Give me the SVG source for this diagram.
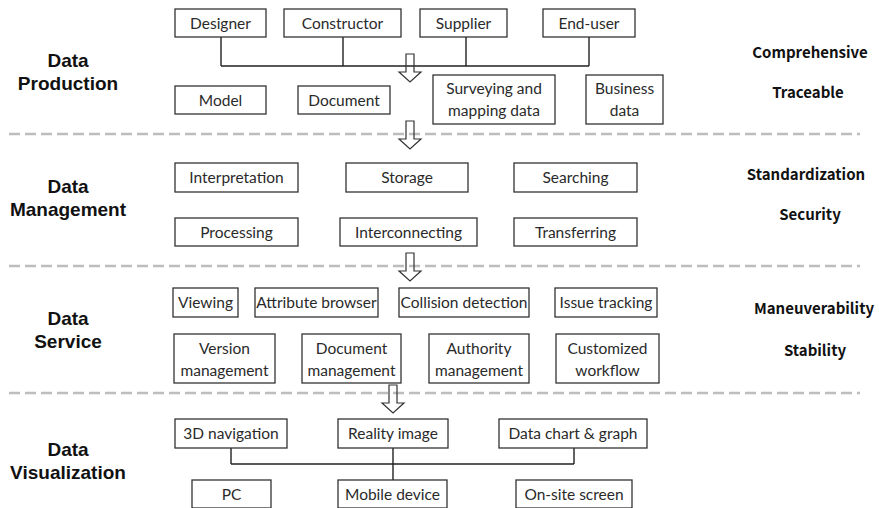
<svg xmlns="http://www.w3.org/2000/svg" width="879" height="508" viewBox="0 0 879 508">
  <style>
    .box rect { fill: #fff; stroke: #333; stroke-width: 1.3; }
    .box text { font-family: Lato, "Noto Sans", sans-serif; font-size: 15.5px; fill: #2a2a2a; text-anchor: middle; }
    .wire { fill: none; stroke: #222; stroke-width: 1.4; }
    .arrow { fill: none; stroke: #333; stroke-width: 1.2; stroke-linejoin: miter; }
    .sep { stroke: #bdbdbd; stroke-width: 2.5; stroke-dasharray: 11 5; }
    .stage { font-family: "Liberation Sans", Arial, sans-serif; font-weight: bold; font-size: 19px; fill: #111; text-anchor: middle; }
    .trait { font-family: "Noto Sans CJK SC", "Noto Sans", sans-serif; font-weight: bold; font-size: 15px; fill: #111; text-anchor: middle; }
  </style>
  <defs>
    <path id="downArrow" d="M-4 0 H4 V18 H11 L0 28 L-11 18 H-4 Z"/>
  </defs>

  <rect width="879" height="508" fill="#fff"/>

  <!-- layer separators -->
  <g id="separators">
    <line class="sep" x1="9" y1="134" x2="860" y2="134"/>
    <line class="sep" x1="9" y1="266" x2="860" y2="266"/>
    <line class="sep" x1="9" y1="393" x2="860" y2="393"/>
  </g>

  <!-- layer titles -->
  <g id="stage-titles">
    <text class="stage" x="68" y="67">Data</text>
    <text class="stage" x="68" y="90">Production</text>
    <text class="stage" x="68" y="193">Data</text>
    <text class="stage" x="68" y="216">Management</text>
    <text class="stage" x="68" y="325">Data</text>
    <text class="stage" x="68" y="348">Service</text>
    <text class="stage" x="68" y="456">Data</text>
    <text class="stage" x="68" y="479">Visualization</text>
  </g>

  <!-- layer properties -->
  <g id="traits">
    <text class="trait" x="810" y="58">Comprehensive</text>
    <text class="trait" x="808" y="98">Traceable</text>
    <text class="trait" x="806" y="180">Standardization</text>
    <text class="trait" x="810" y="220">Security</text>
    <text class="trait" x="814" y="314">Maneuverability</text>
    <text class="trait" x="815" y="356">Stability</text>
  </g>

  <!-- connectors -->
  <g id="connectors">
    <path class="wire" d="M221 37 V66 M343 37 V66 M466 37 V66 M589 37 V66 M221 66 H589"/>
    <path class="wire" d="M231 448 V464 M393 448 V480 M574 448 V464 M231 464 H574"/>
    <use href="#downArrow" class="arrow" x="410" y="54"/>
    <use href="#downArrow" class="arrow" x="410" y="121"/>
    <use href="#downArrow" class="arrow" x="410" y="253"/>
    <use href="#downArrow" class="arrow" x="393" y="385"/>
  </g>

  <!-- Data Production -->
  <g id="designer" class="box"><rect x="175" y="9" width="91" height="28"/><text x="220.5" y="28.5">Designer</text></g>
  <g id="constructor" class="box"><rect x="284" y="9" width="117" height="28"/><text x="342.5" y="28.5">Constructor</text></g>
  <g id="supplier" class="box"><rect x="420" y="9" width="87" height="28"/><text x="463.5" y="28.5">Supplier</text></g>
  <g id="end-user" class="box"><rect x="543" y="9" width="92" height="28"/><text x="589" y="28.5">End-user</text></g>
  <g id="model" class="box"><rect x="175" y="86" width="91" height="28"/><text x="220.5" y="105.5">Model</text></g>
  <g id="document" class="box"><rect x="298" y="86" width="92" height="28"/><text x="344" y="105.5">Document</text></g>
  <g id="surveying" class="box"><rect x="433" y="75" width="122" height="49"/><text x="494" y="94">Surveying and</text><text x="494" y="116">mapping data</text></g>
  <g id="business" class="box"><rect x="586" y="75" width="77" height="49"/><text x="624.5" y="94">Business</text><text x="624.5" y="116">data</text></g>

  <!-- Data Management -->
  <g id="interpretation" class="box"><rect x="175" y="163" width="123" height="29"/><text x="236.5" y="183">Interpretation</text></g>
  <g id="storage" class="box"><rect x="346" y="163" width="122" height="29"/><text x="407" y="183">Storage</text></g>
  <g id="searching" class="box"><rect x="514" y="163" width="123" height="29"/><text x="575.5" y="183">Searching</text></g>
  <g id="processing" class="box"><rect x="175" y="218" width="123" height="28"/><text x="236.5" y="237.5">Processing</text></g>
  <g id="interconnecting" class="box"><rect x="340" y="218" width="137" height="28"/><text x="408.5" y="237.5">Interconnecting</text></g>
  <g id="transferring" class="box"><rect x="514" y="218" width="123" height="28"/><text x="575.5" y="237.5">Transferring</text></g>

  <!-- Data Service -->
  <g id="viewing" class="box"><rect x="173" y="288" width="65" height="29"/><text x="205.5" y="308">Viewing</text></g>
  <g id="attribute-browser" class="box"><rect x="255" y="288" width="123" height="29"/><text x="316.5" y="308">Attribute browser</text></g>
  <g id="collision-detection" class="box"><rect x="399" y="288" width="130" height="29"/><text x="464" y="308">Collision detection</text></g>
  <g id="issue-tracking" class="box"><rect x="555" y="288" width="102" height="29"/><text x="606" y="308">Issue tracking</text></g>
  <g id="version-management" class="box"><rect x="174" y="334" width="101" height="49"/><text x="224.5" y="354">Version</text><text x="224.5" y="376">management</text></g>
  <g id="document-management" class="box"><rect x="302" y="334" width="99" height="49"/><text x="351.5" y="354">Document</text><text x="351.5" y="376">management</text></g>
  <g id="authority-management" class="box"><rect x="429" y="334" width="100" height="49"/><text x="479" y="354">Authority</text><text x="479" y="376">management</text></g>
  <g id="customized-workflow" class="box"><rect x="556" y="334" width="103" height="49"/><text x="607.5" y="354">Customized</text><text x="607.5" y="376">workflow</text></g>

  <!-- Data Visualization -->
  <g id="navigation-3d" class="box"><rect x="175" y="419" width="112" height="29"/><text x="231" y="439">3D navigation</text></g>
  <g id="reality-image" class="box"><rect x="338" y="419" width="110" height="29"/><text x="393" y="439">Reality image</text></g>
  <g id="data-chart" class="box"><rect x="499" y="419" width="148" height="29"/><text x="573" y="439">Data chart &amp; graph</text></g>
  <g id="pc" class="box"><rect x="192" y="480" width="79" height="28"/><text x="231.5" y="499.5">PC</text></g>
  <g id="mobile-device" class="box"><rect x="338" y="480" width="109" height="28"/><text x="392.5" y="499.5">Mobile device</text></g>
  <g id="on-site-screen" class="box"><rect x="516" y="480" width="116" height="28"/><text x="574" y="499.5">On-site screen</text></g>
</svg>
